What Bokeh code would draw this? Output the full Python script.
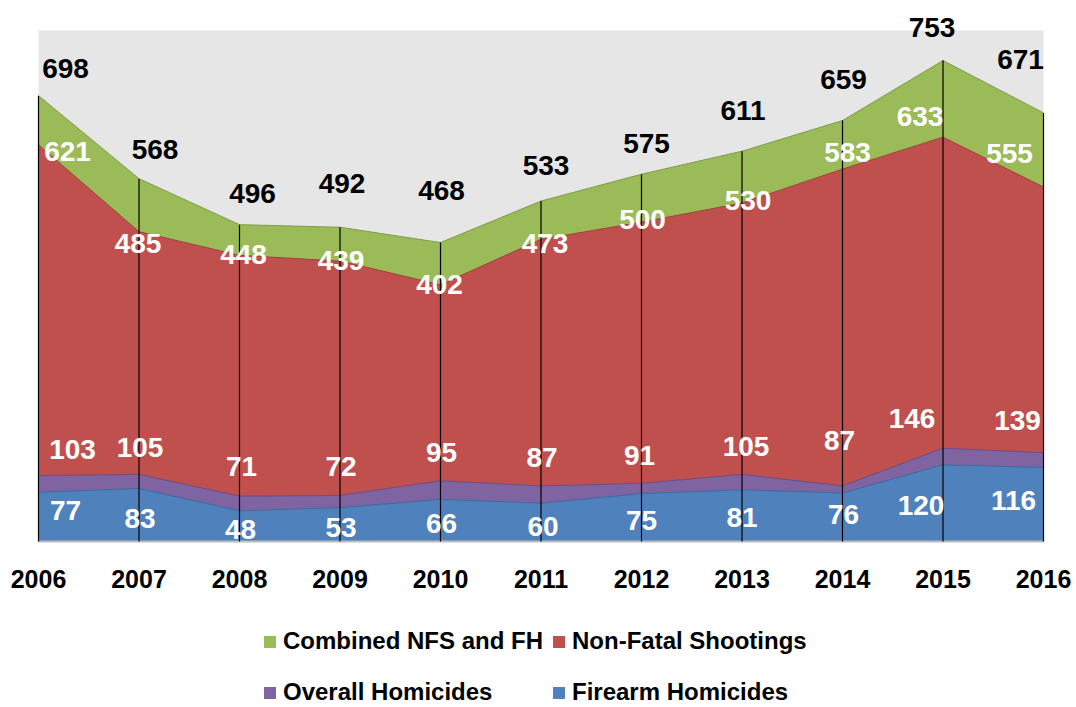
from bokeh.plotting import figure
from bokeh.models import ColumnDataSource, LabelSet, Legend, LegendItem, Range1d, BoxAnnotation
from bokeh.core.properties import value
from bokeh.embed import file_html
from bokeh.resources import INLINE

# ---- data ----
years = [2006, 2007, 2008, 2009, 2010, 2011, 2012, 2013, 2014, 2015, 2016]
combined = [698, 568, 496, 492, 468, 533, 575, 611, 659, 753, 671]
nfs = [621, 485, 448, 439, 402, 473, 500, 530, 583, 633, 555]
overall = [103, 105, 71, 72, 95, 87, 91, 105, 87, 146, 139]
firearm = [77, 83, 48, 53, 66, 60, 75, 81, 76, 120, 116]
tick_labels = ["2006", "2007", "2008", "2009", "2010", "2011", "2012", "2013", "2014", "2015", "2016"]
series_names = ["Combined NFS and FH", "Non-Fatal Shootings", "Overall Homicides", "Firearm Homicides"]
y_max = 800

# ---- label nudges (screen px, relative to each point; +y is up) ----
comb_dx = [27, 16, 13, 2, 1, 5, 5, 1, 1, -11, -23]
comb_dy = [27, 29, 31, 44, 52, 36, 31, 41, 41, 33, 53]
nfs_dx = [29, -1, 4, 1, -1, 4, 1, 6, 5, -23, -34]
nfs_dy = [-7, -12, 1, 1, 0, -4, 3, 2, 17, 21, 33]
ovr_dx = [34, 1, 2, 1, 1, 1, -2, 4, -3, -31, -26]
ovr_dy = [26, 27, 30, 29, 28, 28, 28, 28, 45, 30, 32]
fh_dx = [27, 1, 1, 1, 1, 2, 0, 0, 1, -22, -30]
fh_dy = [-18, -30, -19, -20, -24, -23, -27, -28, -22, -41, -33]

FONT = "Liberation Sans"
GREEN, RED, PURPLE, BLUE = "#9BBB59", "#C0504D", "#8064A2", "#4F81BD"

# ---- layout (pixels) ----
W, H = 1076, 707
PLOT_L, PLOT_R, PLOT_T, PLOT_B = 38, 1043, 30, 541
xs = (PLOT_R - PLOT_L) / (years[-1] - years[0])
ys = (PLOT_B - PLOT_T) / y_max
x_range = Range1d(years[0] - PLOT_L / xs, years[-1] + (W - PLOT_R) / xs)
y_range = Range1d(-(H - PLOT_B) / ys, PLOT_B / ys)

p = figure(width=W, height=H, x_range=x_range, y_range=y_range,
           output_backend="svg", toolbar_location=None,
           min_border=0, min_border_left=0, min_border_right=0,
           min_border_top=0, min_border_bottom=0,
           x_axis_location=None, y_axis_location=None,
           background_fill_color="white", border_fill_color="white", outline_line_color=None)
p.xgrid.visible = False
p.ygrid.visible = False

p.add_layout(BoxAnnotation(left=years[0], right=years[-1], bottom=0, top=y_max,
                           fill_color="#E6E6E6", fill_alpha=1, line_color=None, level="underlay"))

src = ColumnDataSource(dict(x=years, zero=[0] * len(years), comb=combined, nfs=nfs, ovr=overall, fh=firearm,
                            comb_t=[str(v) for v in combined], nfs_t=[str(v) for v in nfs],
                            ovr_t=[str(v) for v in overall], fh_t=[str(v) for v in firearm],
                            year_t=tick_labels,
                            comb_dx=comb_dx, comb_dy=comb_dy, nfs_dx=nfs_dx, nfs_dy=nfs_dy,
                            ovr_dx=ovr_dx, ovr_dy=ovr_dy, fh_dx=fh_dx, fh_dy=fh_dy))

r_comb = p.varea(x="x", y1=0, y2="comb", source=src, fill_color=GREEN)
p.line(x="x", y="comb", source=src, line_color="#7E9C46", line_width=1)
r_nfs = p.varea(x="x", y1=0, y2="nfs", source=src, fill_color=RED)
p.line(x="x", y="nfs", source=src, line_color="#A3403D", line_width=1)
r_ovr = p.varea(x="x", y1=0, y2="ovr", source=src, fill_color=PURPLE)
p.line(x="x", y="ovr", source=src, line_color="#664F86", line_width=1)
r_fh = p.varea(x="x", y1=0, y2="fh", source=src, fill_color=BLUE)
p.line(x="x", y="fh", source=src, line_color="#3E6A9E", line_width=1)

# baseline (axis line)
p.line(x=[years[0], years[-1]], y=[0, 0], line_color="#BDBDBD", line_width=2)

# drop lines
p.segment(x0="x", y0=0, x1="x", y1="comb", source=src, line_color="black", line_width=1.2)

def labels(field, text, dx, dy, color, size):
    ls = LabelSet(x="x", y=field, text=text, source=src,
                  x_offset=dx, y_offset=dy, text_align="center", text_baseline="middle",
                  text_font=value(FONT), text_font_style="bold", text_font_size=size,
                  text_color=color)
    p.add_layout(ls)

labels("comb", "comb_t", "comb_dx", "comb_dy", "black", "28px")
labels("nfs", "nfs_t", "nfs_dx", "nfs_dy", "white", "28px")
labels("ovr", "ovr_t", "ovr_dx", "ovr_dy", "white", "28px")
labels("fh", "fh_t", "fh_dx", "fh_dy", "white", "28px")

# year (tick) labels under the baseline
p.add_layout(LabelSet(x="x", y="zero", text="year_t", source=src, y_offset=-37,
                      text_align="center", text_baseline="middle",
                      text_font=value(FONT), text_font_style="bold", text_font_size="25px",
                      text_color="black"))

def make_legend(items, x, y):
    lg = Legend(items=items, orientation="vertical", location=(x, y),
                margin=0, padding=0, spacing=21,
                glyph_width=15, glyph_height=15, label_standoff=6, label_height=30,
                label_text_font=FONT, label_text_font_style="bold", label_text_font_size="24px",
                label_text_color="black", border_line_color=None, background_fill_alpha=0)
    p.add_layout(lg, "center")

make_legend([LegendItem(label=series_names[0], renderers=[r_comb]),
             LegendItem(label=series_names[2], renderers=[r_ovr])], 262, 0)
make_legend([LegendItem(label=series_names[1], renderers=[r_nfs]),
             LegendItem(label=series_names[3], renderers=[r_fh])], 551, 0)

open("out.html", "w").write(file_html(p, INLINE))
